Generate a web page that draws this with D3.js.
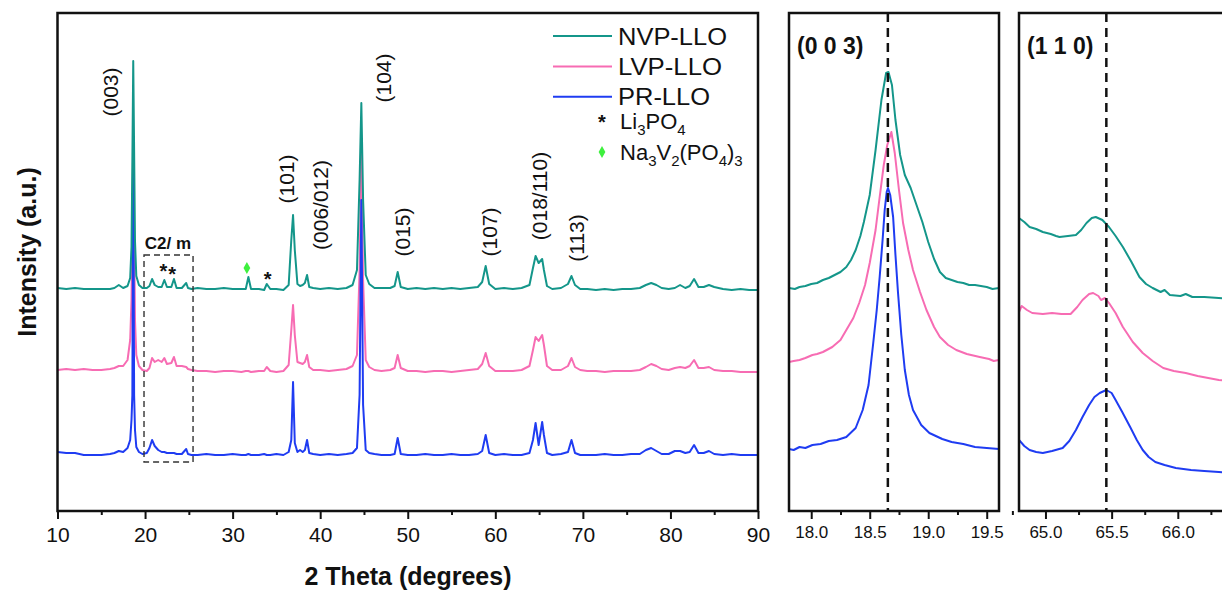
<!DOCTYPE html>
<html><head><meta charset="utf-8">
<script src="https://cdn.jsdelivr.net/npm/d3@7"></script>
<style>
body{margin:0;background:#fff}
text{font-family:Arial,"Liberation Sans",Helvetica,sans-serif;fill:#111}
</style>
</head><body>
<svg id="c" width="1222" height="590"></svg>
<script>
// ---------------- DATA ----------------
const seriesNames = ["NVP-LLO", "LVP-LLO", "PR-LLO"];
const seriesColors = ["#14968a", "#f76cb3", "#1f3cf2"];
const stackOffsets = [222, 140, 56];   // vertical offsets of the stacked patterns (a.u.)

const twoTheta = [
 10,11,12,13,14,15,16,16.5,17,17.5,
 18,18.3,18.45,18.55,18.65,18.75,18.85,19.0,19.3,19.7,
 20.2,20.5,20.8,21.1,21.5,21.9,22.2,22.5,23.0,23.3,
 23.6,24.2,24.7,24.9,25.3,26,27,28,29,30,
 31,31.5,31.8,32.1,33,33.6,33.9,34.3,35,35.8,
 36.4,36.7,36.9,37.1,37.4,37.7,38.0,38.25,38.5,38.75,
 39.2,40,41,42,43,43.7,44.2,44.5,44.7,44.9,
 45.2,45.6,46.2,47,48,48.5,48.85,49.2,50,51,
 52,53,54,55,56,57,58,58.5,58.9,59.3,
 60,61,62,63,63.9,64.3,64.6,64.95,65.35,65.55,
 65.9,66.5,67.5,68.3,68.7,69.1,69.7,70.5,71.5,72.5,
 73.5,74.5,75.5,76.5,77.2,77.8,78.4,79,79.8,80.5,
 81.1,81.7,82.2,82.7,83.2,83.8,84.4,85,86,87,
 88,89,90];

const nvpLLO = [
 1,0,1,0,0,0,0,1,4,1,
 3,11,42,129,228,139,48,13,4,1,
 1,3,10,4,2,2,9,2,2,10,
 1,1,6,1,0,1,0,0,1,0,
 0,0,12,0,0,-1,5,0,0,-1,
 4,49,74,39,5,3,4,6,14,2,
 1,0,1,0,1,4,19,109,186,89,
 14,5,1,1,1,3,17,2,0,1,
 0,1,0,1,0,1,2,7,23,5,
 0,1,0,1,4,21,33,26,30,19,
 3,0,1,5,13,4,0,0,-1,0,
 -1,0,0,1,4,6,4,1,0,1,
 4,1,3,10,2,2,4,2,0,-1,
 0,-1,-1];

const lvpLLO = [
 1,2,1,2,1,1,2,3,5,5,
 11,31,71,141,231,141,51,16,5,1,
 0,3,13,9,11,9,13,7,8,14,
 5,5,4,2,1,0,0,-1,0,0,
 -1,0,0,-1,0,0,4,0,-1,0,
 6,41,66,36,9,8,7,9,16,4,
 1,1,0,1,2,5,16,101,221,91,
 11,4,1,0,1,3,16,3,0,0,
 -1,0,0,-1,0,1,2,7,18,5,
 0,0,0,1,5,21,34,30,36,26,
 5,1,1,5,13,4,1,0,0,-1,
 0,0,0,1,4,7,5,2,1,3,
 4,3,5,11,3,3,4,1,0,0,
 -1,-1,-1];

const prLLO = [
 3,2,2,0,0,0,1,2,4,3,
 7,15,35,60,305,60,25,8,3,1,
 2,7,15,9,5,3,3,2,2,2,
 1,1,6,1,0,0,1,0,0,1,
 0,0,1,0,0,1,0,0,1,0,
 3,15,73,12,3,5,3,5,15,2,
 1,0,1,0,1,2,7,60,255,50,
 5,2,1,0,0,1,17,1,0,0,
 1,0,0,1,0,0,1,4,20,2,
 0,1,0,0,2,15,32,10,33,20,
 2,0,1,3,15,2,0,0,0,1,
 0,0,1,1,5,7,4,1,1,4,
 4,2,3,10,2,2,4,1,0,1,
 0,0,0];

const mainTicks = [10,20,30,40,50,60,70,80,90];
const mainMinorTicks = [15,25,35,45,55,65,75,85];

// Zoomed (0 0 3) region: [2theta, intensity]
const z003_nvp = [[17.81,223],[17.86,222],[17.9,224],[17.95,225],[18.0,227],[18.05,228],[18.1,231],[18.15,233],[18.2,236],[18.25,239],[18.3,244],[18.34,251],[18.38,261],[18.42,275],[18.45,289],[18.5,316],[18.55,361],[18.6,411],[18.64,438],[18.66,439],[18.69,426],[18.72,391],[18.76,356],[18.8,336],[18.85,323],[18.9,306],[18.95,289],[19.0,269],[19.05,252],[19.1,239],[19.15,233],[19.2,231],[19.25,229],[19.3,228],[19.35,226],[19.4,226],[19.45,225],[19.5,224],[19.55,222],[19.605,223]];
const z003_lvp = [[17.81,149],[17.85,150],[17.9,151],[17.95,153],[18.01,156],[18.05,157],[18.1,159],[18.18,164],[18.25,171],[18.3,181],[18.36,193],[18.41,208],[18.46,226],[18.5,248],[18.55,281],[18.585,314],[18.62,346],[18.65,366],[18.685,379],[18.714,358],[18.75,321],[18.785,288],[18.83,261],[18.87,241],[18.93,219],[18.985,201],[19.05,184],[19.1,174],[19.17,166],[19.24,161],[19.33,157],[19.44,154],[19.52,152],[19.56,150],[19.605,151]];
const z003_pr = [[17.81,62],[17.85,61],[17.9,64],[17.95,63],[18.01,66],[18.08,67],[18.15,70],[18.22,71],[18.3,74],[18.38,83],[18.44,101],[18.49,126],[18.53,168],[18.56,201],[18.585,234],[18.61,271],[18.628,301],[18.645,319],[18.656,323],[18.675,316],[18.7,294],[18.72,256],[18.742,218],[18.77,176],[18.8,141],[18.835,116],[18.87,101],[18.94,86],[19.01,78],[19.12,72],[19.2,69],[19.3,67],[19.4,64],[19.5,63],[19.605,62]];
const z003_ticks = [18.0,18.5,19.0,19.5];
const z003_minor = [18.25,18.75,19.25];
const z003_ref = 18.655;

// Zoomed (1 1 0) region
const z110_nvp = [[64.8,293],[64.84,289],[64.88,284],[64.93,282],[64.98,279],[65.04,277],[65.08,275],[65.106,274],[65.17,275],[65.23,276],[65.27,281],[65.31,288],[65.35,293],[65.38,294],[65.43,291],[65.48,284],[65.53,275],[65.585,264],[65.65,249],[65.71,234],[65.76,227],[65.81,223],[65.87,219],[65.9,221],[65.94,216],[66.02,215],[66.06,217],[66.11,214],[66.2,214],[66.31,213],[66.45,212]];
const z110_lvp = [[64.8,199],[64.82,205],[64.86,201],[64.9,198],[64.98,197],[65.05,198],[65.12,197],[65.19,197],[65.24,204],[65.28,211],[65.33,217],[65.36,218],[65.4,215],[65.42,211],[65.45,213],[65.48,208],[65.53,198],[65.585,184],[65.66,169],[65.735,158],[65.81,150],[65.89,143],[65.97,140],[66.06,138],[66.15,135],[66.23,133],[66.31,131],[66.45,129]];
const z110_pr = [[64.8,71],[64.84,65],[64.88,61],[64.93,59],[64.98,58],[65.05,60],[65.13,63],[65.18,70],[65.23,81],[65.28,94],[65.33,106],[65.37,114],[65.41,118],[65.46,121],[65.5,118],[65.53,111],[65.58,99],[65.64,84],[65.69,71],[65.735,61],[65.78,54],[65.83,49],[65.9,46],[65.985,43],[66.1,41],[66.2,40],[66.31,39],[66.45,38]];
const z110_ticks = [65.0,65.5,66.0];
const z110_minor = [64.75,65.25,65.75,66.25];
const z110_ref = 65.46;

const peakLabels = ["(003)","(101)","(006/012)","(104)","(015)","(107)","(018/110)","(113)"];
const peakLabelTheta = [16.05,36.08,40.0,47.15,49.4,59.25,65.0,69.2];
const peakLabelY = [92,179,205,78,232,232,196,238];

const li3po4Marks = [22.1, 23.1, 34.0];
const nvpMarks = [31.8];

// ---------------- DRAW ----------------
const svg = d3.select("#c");
const TOP = 13, BOT = 511;
const y = d3.scaleLinear().domain([0, 498]).range([BOT, TOP]);
const xMain = d3.scaleLinear().domain([10, 90]).range([57.5, 758]);
const x003 = d3.scaleLinear().domain([17.81, 19.605]).range([789, 999]);
const x110 = d3.scaleLinear().domain([64.8, 66.47]).range([1019, 1240]);

const defs = svg.append("defs");
function clip(id, x0, x1){
  defs.append("clipPath").attr("id", id).append("rect")
    .attr("x", x0).attr("y", TOP).attr("width", x1 - x0).attr("height", BOT - TOP);
}
clip("cm", 57.5, 758); clip("c1", 789, 999); clip("c2", 1019, 1240);

const mainSeries = [nvpLLO, lvpLLO, prLLO];
const drawOrder = [1, 2, 0];
const gMain = svg.append("g").attr("clip-path", "url(#cm)");
drawOrder.forEach(i => {
  const line = d3.line().x((d, k) => xMain(twoTheta[k])).y(d => y(d + stackOffsets[i]));
  gMain.append("path").datum(mainSeries[i]).attr("d", line)
    .attr("fill", "none").attr("stroke", seriesColors[i]).attr("stroke-width", 2)
    .attr("stroke-linejoin", "round");
});

function inset(xs, cid, sets){
  const g = svg.append("g").attr("clip-path", `url(#${cid})`);
  const line = d3.line().x(d => xs(d[0])).y(d => y(d[1]));
  [1, 2, 0].forEach(i => {
    g.append("path").datum(sets[i]).attr("d", line).attr("fill", "none")
      .attr("stroke", seriesColors[i]).attr("stroke-width", 2).attr("stroke-linejoin", "round");
  });
  return g;
}
inset(x003, "c1", [z003_nvp, z003_lvp, z003_pr]);
inset(x110, "c2", [z110_nvp, z110_lvp, z110_pr]);

// reference dashed lines
[[x003, z003_ref], [x110, z110_ref]].forEach(([xs, v]) => {
  svg.append("line").attr("x1", xs(v)).attr("x2", xs(v)).attr("y1", TOP).attr("y2", BOT)
    .attr("stroke", "#111").attr("stroke-width", 2.5).attr("stroke-dasharray", "9,6");
});

// C2/m dashed box
svg.append("rect").attr("x", xMain(19.88)).attr("y", 255)
  .attr("width", xMain(25.48) - xMain(19.88)).attr("height", 207)
  .attr("fill", "none").attr("stroke", "#333").attr("stroke-width", 1.4).attr("stroke-dasharray", "6,4");
svg.append("text").attr("x", 168).attr("y", 249).attr("text-anchor", "middle")
  .attr("font-weight", "bold").attr("font-size", 17).text("C2/ m");

// frames
function frame(x0, x1){
  svg.append("rect").attr("x", x0).attr("y", TOP).attr("width", x1 - x0).attr("height", BOT - TOP)
    .attr("fill", "none").attr("stroke", "#111").attr("stroke-width", 2.5);
}
frame(57.5, 758); frame(789, 999); frame(1019, 1240);

// axes
function axis(xs, major, minor, fmt, fs, len){
  const g = svg.append("g").attr("transform", `translate(0,${BOT})`);
  g.call(d3.axisBottom(xs).tickValues(major).tickSize(len).tickSizeOuter(0).tickFormat(fmt));
  g.select(".domain").remove();
  g.selectAll(".tick line").attr("stroke", "#111").attr("stroke-width", 2);
  g.selectAll(".tick text").attr("font-size", fs).attr("fill", "#111")
    .attr("font-family", "Arial, 'Liberation Sans', sans-serif").attr("dy", "0.95em");
  const gm = svg.append("g").attr("transform", `translate(0,${BOT})`);
  gm.call(d3.axisBottom(xs).tickValues(minor).tickSize(len / 2).tickSizeOuter(0).tickFormat(""));
  gm.select(".domain").remove();
  gm.selectAll(".tick line").attr("stroke", "#111").attr("stroke-width", 2);
}
axis(xMain, mainTicks, mainMinorTicks, d3.format("d"), 21, 8);
axis(x003, z003_ticks, z003_minor, d3.format(".1f"), 17, 8);
axis(x110, z110_ticks, z110_minor, d3.format(".1f"), 17, 8);

// axis titles
svg.append("text").attr("x", 408).attr("y", 585).attr("text-anchor", "middle")
  .attr("font-weight", "bold").attr("font-size", 25).text("2 Theta (degrees)");
svg.append("text").attr("transform", "translate(36,252) rotate(-90)").attr("text-anchor", "middle")
  .attr("font-weight", "bold").attr("font-size", 25).text("Intensity (a.u.)");

// peak labels
peakLabels.forEach((t, i) => {
  svg.append("text").attr("transform", `translate(${xMain(peakLabelTheta[i]) + 8},${peakLabelY[i]}) rotate(-90)`)
    .attr("text-anchor", "middle").attr("font-size", 21).text(t);
});

// inset titles
svg.append("text").attr("x", 797).attr("y", 54).attr("font-weight", "bold").attr("font-size", 23).text("(0 0 3)");
svg.append("text").attr("x", 1027).attr("y", 54).attr("font-weight", "bold").attr("font-size", 23).text("(1 1 0)");

// phase marks
const starY = [267, 270, 275];
li3po4Marks.forEach((t, i) => {
  svg.append("text").attr("x", xMain(t)).attr("y", starY[i] + 11).attr("text-anchor", "middle")
    .attr("font-size", 20).attr("font-weight", "bold").text("*");
});
nvpMarks.forEach(t => {
  svg.append("path").attr("d", d3.symbol(d3.symbolDiamond, 40)())
    .attr("transform", `translate(${xMain(t) - 1.5},268)`).attr("fill", "#3ef03e");
});

// legend
const legendWidths = [109, 104, 92];
const lg = svg.append("g");
seriesNames.forEach((n, i) => {
  const yy = 36 + i * 30.4;
  lg.append("line").attr("x1", 553).attr("x2", 612).attr("y1", yy).attr("y2", yy)
    .attr("stroke", seriesColors[i]).attr("stroke-width", 2);
  lg.append("text").attr("x", 618).attr("y", yy + 8.5).attr("font-size", 24)
    .attr("textLength", legendWidths[i]).attr("lengthAdjust", "spacingAndGlyphs").text(n);
});
lg.append("text").attr("x", 602).attr("y", 129).attr("text-anchor", "middle")
  .attr("font-size", 20).attr("font-weight", "bold").text("*");
const t1 = lg.append("text").attr("x", 620).attr("y", 129).attr("font-size", 22);
t1.append("tspan").text("Li");
t1.append("tspan").attr("font-size", 15).attr("dy", 6).text("3");
t1.append("tspan").attr("dy", -6).text("PO");
t1.append("tspan").attr("font-size", 15).attr("dy", 6).text("4");
lg.append("path").attr("d", d3.symbol(d3.symbolDiamond, 40)())
  .attr("transform", "translate(602,152)").attr("fill", "#3ef03e");
const t2 = lg.append("text").attr("x", 620).attr("y", 160).attr("font-size", 22);
t2.append("tspan").text("Na");
t2.append("tspan").attr("font-size", 15).attr("dy", 6).text("3");
t2.append("tspan").attr("dy", -6).text("V");
t2.append("tspan").attr("font-size", 15).attr("dy", 6).text("2");
t2.append("tspan").attr("dy", -6).text("(PO");
t2.append("tspan").attr("font-size", 15).attr("dy", 6).text("4");
t2.append("tspan").attr("dy", -6).text(")");
t2.append("tspan").attr("font-size", 15).attr("dy", 6).text("3");
</script>
</body></html>
